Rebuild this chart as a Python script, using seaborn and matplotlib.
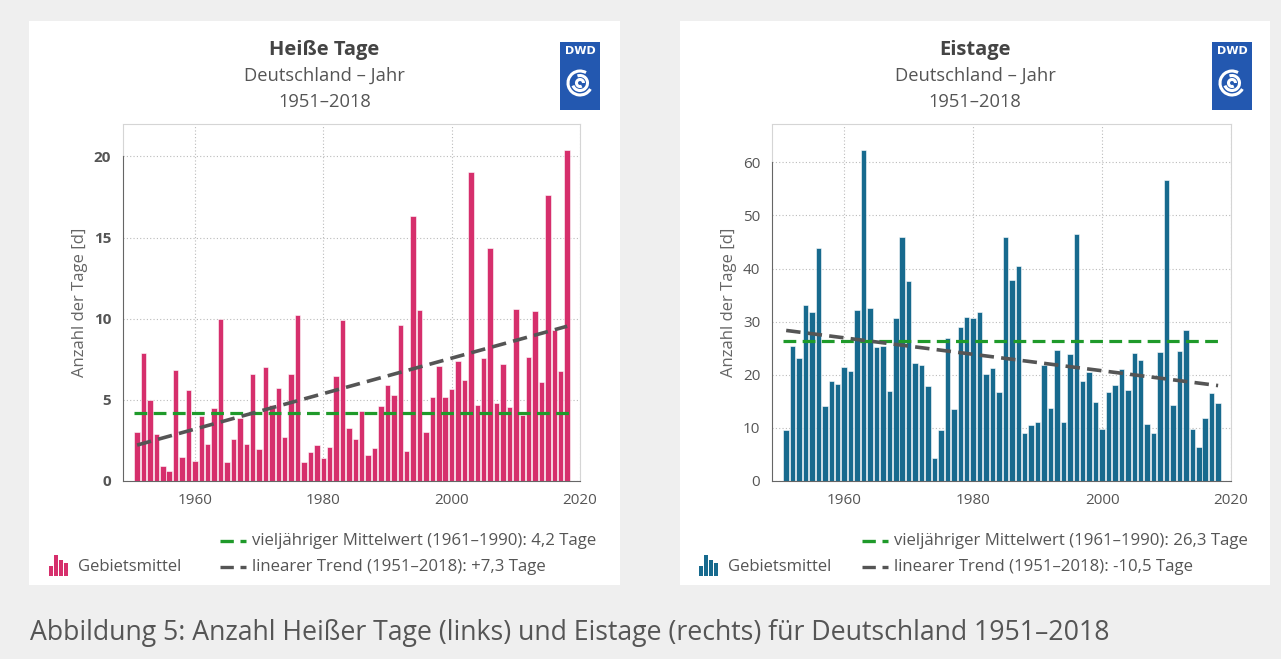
import numpy as np
import matplotlib
matplotlib.use("Agg")
import matplotlib.pyplot as plt
import seaborn as sns
from matplotlib.patches import Rectangle, Arc
from matplotlib.lines import Line2D

# --- Settings ---
sns.set_style("white")
plt.rcParams["font.family"] = ["Open Sans", "DejaVu Sans"]

# --- Data ---
years = list(range(1951, 2019))

hot_days = [3.0, 7.9, 5.0, 2.9, 0.9, 0.6, 6.85, 1.5, 5.6, 1.25,      # 1951-1960
            4.0, 2.3, 4.5, 10.0, 1.15, 2.6, 3.9, 2.3, 6.6, 1.95,     # 1961-1970
            7.05, 4.7, 5.75, 2.7, 6.6, 10.2, 1.2, 1.8, 2.2, 1.4,     # 1971-1980
            2.1, 6.5, 9.9, 3.25, 2.6, 4.3, 1.6, 2.05, 4.65, 5.9,     # 1981-1990
            5.27, 9.6, 1.85, 16.3, 10.55, 3.0, 5.16, 7.06, 5.16, 5.66,  # 1991-2000
            7.37, 6.2, 19.05, 4.7, 7.57, 14.36, 4.8, 7.2, 4.55, 10.6,   # 2001-2010
            4.07, 7.63, 10.5, 6.1, 17.6, 9.3, 6.75, 20.4]            # 2011-2018

ice_days = [9.6, 25.5, 23.2, 33.2, 31.8, 43.9, 14.15, 18.8, 18.35, 21.5,  # 1951-1960
            20.7, 32.1, 62.3, 32.6, 25.2, 25.4, 17.0, 30.7, 45.9, 37.6,   # 1961-1970
            22.3, 21.8, 17.9, 4.3, 9.6, 27.0, 13.5, 29.0, 30.9, 30.6,     # 1971-1980
            31.9, 20.2, 21.35, 16.8, 46.0, 37.8, 40.4, 8.95, 10.5, 11.1,  # 1981-1990
            21.9, 13.8, 24.6, 11.1, 24.0, 46.5, 18.8, 20.5, 14.9, 9.7,    # 1991-2000
            16.8, 18.0, 21.0, 17.2, 24.1, 22.7, 10.8, 9.1, 24.3, 56.7,    # 2001-2010
            14.4, 24.4, 28.5, 9.7, 6.45, 11.9, 16.5, 14.6]                # 2011-2018

hot_mean = 4.2
ice_mean = 26.3

titles = ["Heiße Tage", "Eistage"]
subtitle = "Deutschland – Jahr"
period = "1951–2018"
mean_labels = ["vieljähriger Mittelwert (1961–1990): 4,2 Tage",
               "vieljähriger Mittelwert (1961–1990): 26,3 Tage"]
trend_labels = ["linearer Trend (1951–2018): +7,3 Tage",
                "linearer Trend (1951–2018): -10,5 Tage"]
caption = "Abbildung 5: Anzahl Heißer Tage (links) und Eistage (rechts) für Deutschland 1951–2018"

pink = "#d62f6c"
blue = "#176a8e"
green = "#1f9a2a"
trend_grey = "#555555"
text_grey = "#555555"
dash = (0, (4, 2))

W, H = 1281, 659


def fx(x):
    return x / W


def fy(y):
    return 1 - y / H


fig = plt.figure(figsize=(12.81, 6.59), dpi=100, facecolor="#efefef")

# --- white panels ---
for x0, x1 in [(29, 620), (680, 1270)]:
    fig.add_artist(Rectangle((fx(x0), fy(585)), (x1 - x0) / W, (585 - 21) / H,
                             transform=fig.transFigure, fc="white", ec="none", zorder=0))


def draw_logo(x0):
    lax = fig.add_axes([fx(x0), fy(110), 40 / W, 68 / H])
    lax.set_xlim(0, 40)
    lax.set_ylim(0, 68)
    lax.axis("off")
    lax.add_patch(Rectangle((0, 0), 40, 68, fc="#2358b0", ec="none"))
    lax.text(20, 59, "DWD", color="white", fontsize=8, fontweight="bold",
             ha="center", va="center", family="DejaVu Sans")
    for d, t1, t2 in [(7, 0, 300), (15, 200, 470), (24, 60, 330)]:
        lax.add_patch(Arc((20, 27), d, d, theta1=t1, theta2=t2, color="white", lw=2.2))


def draw_panel(ax, vals, color, mean, ymax, ystep, spine_top, bold_ticks):
    sns.barplot(x=years, y=vals, native_scale=True, color=color, saturation=1,
                width=0.85, edgecolor="white", linewidth=0.4, ax=ax, zorder=2)
    ax.hlines(mean, years[0] - 0.5, years[-1] + 0.5, colors=green,
              linestyles=dash, lw=2.3, zorder=3)
    sns.regplot(x=np.array(years), y=np.array(vals), scatter=False, ci=None, truncate=True,
                color=trend_grey, line_kws=dict(ls=dash, lw=2.6, zorder=4), ax=ax)

    ax.set_xlim(1948.8, 2020)
    ax.set_ylim(0, ymax)
    ax.set_xticks([1960, 1980, 2000, 2020])
    ax.set_yticks(range(0, spine_top + 1, ystep))
    ax.grid(True, color="#bbbbbb", ls=(0, (1, 2)), lw=0.8)
    ax.set_axisbelow(True)
    for s in ["top", "right"]:
        ax.spines[s].set_color("#d5d5d5")
    ax.spines["left"].set_color("#666666")
    ax.spines["left"].set_bounds(0, spine_top)
    ax.spines["bottom"].set_color("#666666")
    ax.add_line(Line2D([0, 0], [spine_top / ymax, 1], transform=ax.transAxes,
                       color="#d5d5d5", lw=0.8, clip_on=False))
    ax.tick_params(direction="out", length=5, color="#666666", labelcolor=text_grey,
                   labelsize=11)
    if bold_ticks:
        for lab in ax.get_yticklabels():
            lab.set_fontweight("bold")
    ax.set_xlabel("")
    ax.set_ylabel("Anzahl der Tage [d]", color="#666666", fontsize=12)


ax1 = fig.add_axes([fx(123), fy(481), (580 - 123) / W, (481 - 124) / H])
draw_panel(ax1, hot_days, pink, hot_mean, 22, 5, 20, True)
ax2 = fig.add_axes([fx(772), fy(481), (1231 - 772) / W, (481 - 124) / H])
draw_panel(ax2, ice_days, blue, ice_mean, 67.2, 10, 60, False)

# --- titles, logos, legends ---
for i, (cx, lx, color) in enumerate([(324.5, 560, pink), (975, 1212, blue)]):
    fig.text(fx(cx), fy(50), titles[i], ha="center", va="center", fontsize=14.5,
             fontweight="bold", color="#444444")
    fig.text(fx(cx), fy(76), subtitle, ha="center", va="center", fontsize=13.2, color=text_grey)
    fig.text(fx(cx), fy(102), period, ha="center", va="center", fontsize=13.2, color=text_grey)
    draw_logo(lx)

    ox = 0 if i == 0 else 650
    for bx, bh in zip([49, 54, 59, 64], [10, 21, 16, 13]):
        fig.add_artist(Rectangle((fx(bx + ox), fy(576)), 4 / W, bh / H,
                                 transform=fig.transFigure, fc=color, ec="none"))
    fig.text(fx(78 + ox), fy(567), "Gebietsmittel", va="center", fontsize=12, color=text_grey)

    lo = 0 if i == 0 else 642
    for yy, c, lab in [(541, green, mean_labels[i]), (567, trend_grey, trend_labels[i])]:
        fig.add_artist(Line2D([fx(220 + lo), fx(246 + lo)], [fy(yy), fy(yy)],
                              transform=fig.transFigure, color=c, lw=2.4, ls=dash))
        fig.text(fx(252 + lo), fy(yy), lab, va="center", fontsize=12.1, color=text_grey)

fig.text(fx(30), fy(633), caption, va="center", fontsize=19.2, color=text_grey)

fig.savefig("out.png", dpi=100, facecolor=fig.get_facecolor())
